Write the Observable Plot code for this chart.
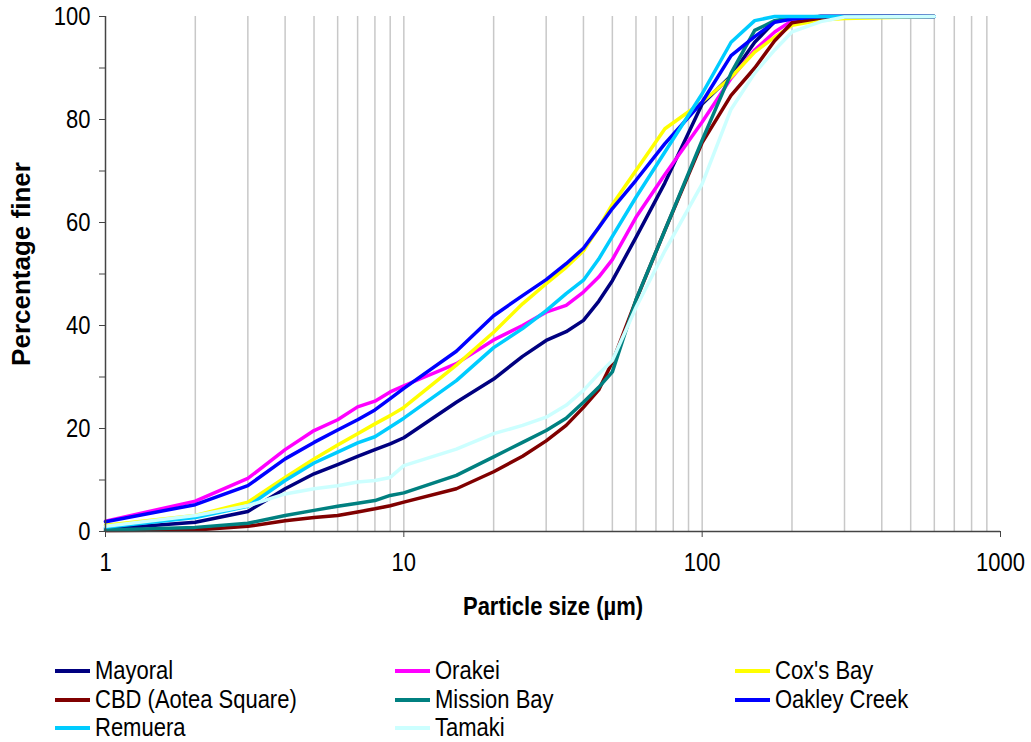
<!DOCTYPE html>
<html><head><meta charset="utf-8">
<script src="https://cdn.jsdelivr.net/npm/d3@7"></script>
<script src="https://cdn.jsdelivr.net/npm/@observablehq/plot@0.6"></script>
<style>
body{margin:0;background:#fff;font-family:"Liberation Sans",Arial,sans-serif;}
#legend{position:relative;width:1031px;}
.item{position:absolute;display:flex;align-items:center;font-size:22px;color:#000;white-space:nowrap;}
.swatch{width:35px;height:3.5px;margin-right:5px;}
.lbl{display:inline-block;transform:scaleY(1.15);transform-origin:center;}
</style></head><body><div id="chart"></div><div id="legend"></div>
<script>
// Particle size (µm)
const sizes = [1,2,3,4,5,6,7,8,9,10,15,20,25,30,35,40,45,50,60,75,100,125,150,175,200,250,300,600];
const seriesNames = ["Mayoral","Orakei","Cox's Bay","CBD (Aotea Square)","Mission Bay","Oakley Creek","Remuera","Tamaki"];
const seriesColors = ["#000080","#FF00FF","#FFFF00","#800000","#008080","#0000FF","#00CCFF","#CCFFFF"];
const mayoral   = [0.5,1.8,3.9,8.3,11.2,13.0,14.6,15.9,17.0,18.2,25.1,29.6,34.0,37.1,38.8,41.0,44.7,48.7,57.1,67.7,83.0,88.5,95.0,99.0,99.6,100,100,100];
const orakei    = [2.0,5.9,10.3,15.9,19.6,21.7,24.2,25.3,27.1,28.3,32.6,37.2,40.0,42.6,43.9,46.5,49.4,52.8,61.0,69.3,79.5,88.0,93.5,97.0,99.2,100,100,100];
const coxsBay   = [1.2,3.1,5.7,10.5,14.1,16.8,19.0,20.9,22.5,24.1,32.3,38.7,44.2,48.1,51.3,54.5,59.0,63.5,70.1,78.2,83.4,88.2,93.1,96.0,98.3,99.3,99.6,100];
const cbd       = [0.2,0.3,1.0,2.1,2.7,3.1,3.8,4.4,5.0,5.7,8.3,11.6,14.6,17.6,20.6,24.1,27.5,32.9,44.9,58.5,75.5,84.7,90.0,95.3,98.8,99.7,100,100];
const missionBay= [0.3,0.8,1.6,3.1,4.1,4.9,5.5,6.0,7.0,7.5,10.9,14.5,17.3,19.6,22.0,25.1,28.0,31.0,45.0,58.5,76.0,89.0,97.3,99.2,99.8,100,100,100];
const oakley    = [1.9,5.2,8.9,14.1,17.3,19.7,21.7,23.6,25.8,27.8,35.0,41.9,45.8,48.9,52.0,55.0,59.0,62.7,68.2,75.3,83.4,92.4,96.1,98.9,99.5,100,100,100];
const remuera   = [0.8,2.7,4.9,9.9,13.3,15.4,17.2,18.4,20.3,22.0,29.3,35.7,39.4,42.9,46.2,48.8,52.9,57.3,64.9,73.7,85.0,95.0,99.2,100,100,100,100,100];
const tamaki    = [1.0,3.1,5.0,7.3,8.3,8.9,9.6,9.9,10.5,12.8,16.0,19.0,20.6,22.2,24.5,27.4,30.6,33.2,43.5,54.5,67.5,82.0,89.0,93.5,97.0,99.0,99.9,100];
const yTicks = [0,20,40,60,80,100];
const yMinorTicks = [10,30,50,70,90];
const xTicks = [1,10,100,1000];
const gridVals = [2,3,4,5,6,7,8,9,10,20,30,40,50,60,70,80,90,100,200,300,400,500,600,700,800,900];

const allSeries = [mayoral,orakei,coxsBay,cbd,missionBay,oakley,remuera,tamaki];
const rows = [];
allSeries.forEach((vals,i)=>vals.forEach((v,j)=>rows.push({series:seriesNames[i],size:sizes[j],value:v})));

const W = 1031, H = 640;
const chart = Plot.plot({
  width: W, height: H,
  marginLeft: 105, marginRight: 31, marginTop: 16, marginBottom: H - 531,
  style: {fontFamily: "'Liberation Sans', Arial, sans-serif", fontSize: "22px", color: "#000", background: "#fff"},
  x: {type: "log", domain: [1, 1000]},
  y: {domain: [0, 100]},
  color: {domain: seriesNames, range: seriesColors},
  marks: [
    Plot.ruleX(gridVals, {stroke: "#c8c8c8", strokeWidth: 1.5}),
    Plot.line(rows, {x: "size", y: "value", z: "series", stroke: "series", strokeWidth: 3.5, strokeLinejoin: "round"}),
    Plot.ruleY([0], {stroke: "#444", strokeWidth: 1.5}),
    Plot.ruleX([1], {stroke: "#444", strokeWidth: 1.5}),
    Plot.axisX({ticks: xTicks, tickFormat: d => String(d), tickSize: 6, tickPadding: 17, label: null, stroke: "#444"}),
    Plot.axisY({ticks: yTicks, tickSize: 6, tickPadding: 9, label: null, stroke: "#444"}),
    Plot.axisY({ticks: yMinorTicks, tickSize: 6, text: null, label: null, stroke: "#444"}),
    Plot.text(["Particle size (µm)"], {frameAnchor: "bottom", lineAnchor: "middle", dy: 75, fontWeight: "bold", fontSize: 22}),
    Plot.text(["Percentage finer"], {frameAnchor: "left", textAnchor: "middle", lineAnchor: "middle", dx: -84, dy: -10, rotate: -90, fontWeight: "bold", fontSize: 26})
  ]
});
document.getElementById("chart").appendChild(chart);
// stretch horizontal texts vertically (about their own centre) to match the reference's tall glyphs
d3.select(chart).selectAll("text").each(function(){
  const tr = this.getAttribute("transform") || "";
  if (tr.includes("rotate")) return;
  const b = this.getBBox();
  const cy = b.y + b.height / 2;
  this.setAttribute("transform", `${tr} translate(0,${cy}) scale(1,1.15) translate(0,${-cy})`);
});

const legend = document.getElementById("legend");
legend.style.height = (742 - H) + "px";
const colX = [55, 395, 735];
const rowY = [671, 700, 728];
seriesNames.forEach((name,i)=>{
  const c = i % 3, r = Math.floor(i / 3);
  const d = document.createElement("div");
  d.className = "item";
  d.style.left = colX[c] + "px";
  d.style.top = (rowY[r] - H - 13) + "px";
  d.style.height = "26px";
  d.innerHTML = `<span class="swatch" style="background:${seriesColors[i]}"></span><span class="lbl"></span>`;
  d.lastChild.textContent = name;
  legend.appendChild(d);
});
</script></body></html>
